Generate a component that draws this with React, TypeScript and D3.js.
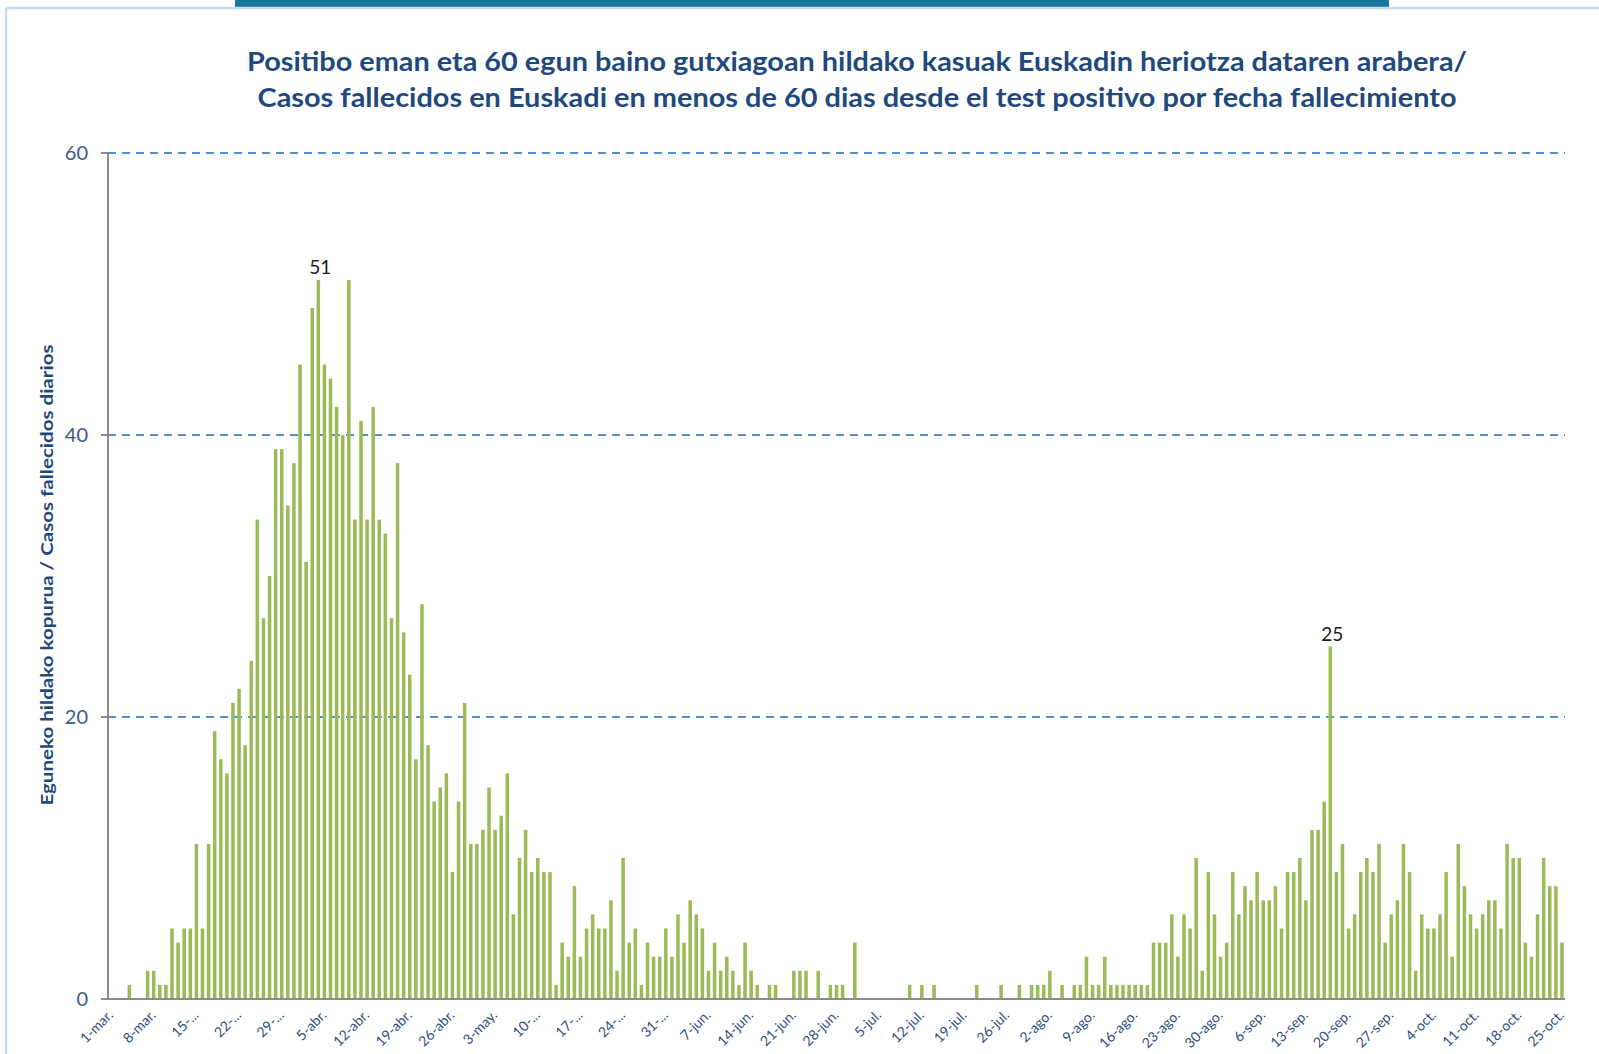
import React from 'react';
import * as d3 from 'd3';

// Eguneko hildakoak / fallecidos diarios, 1-mar a 25-oct
const marzo = [0, 0, 0, 1, 0, 0, 2, 2, 1, 1, 5, 4, 5, 5, 11, 5, 11, 19, 17, 16, 21, 22, 18, 24, 34, 27, 30, 39, 39, 35, 38];
const abril = [45, 31, 49, 51, 45, 44, 42, 40, 51, 34, 41, 34, 42, 34, 33, 27, 38, 26, 23, 17, 28, 18, 14, 15, 16, 9, 14, 21, 11, 11];
const mayo = [12, 15, 12, 13, 16, 6, 10, 12, 9, 10, 9, 9, 1, 4, 3, 8, 3, 5, 6, 5, 5, 7, 2, 10, 4, 5, 1, 4, 3, 3, 5];
const junio = [3, 6, 4, 7, 6, 5, 2, 4, 2, 3, 2, 1, 4, 2, 1, 0, 1, 1, 0, 0, 2, 2, 2, 0, 2, 0, 1, 1, 1, 0];
const julio = [4, 0, 0, 0, 0, 0, 0, 0, 0, 1, 0, 1, 0, 1, 0, 0, 0, 0, 0, 0, 1, 0, 0, 0, 1, 0, 0, 1, 0, 1, 1];
const agosto = [1, 2, 0, 1, 0, 1, 1, 3, 1, 1, 3, 1, 1, 1, 1, 1, 1, 1, 4, 4, 4, 6, 3, 6, 5, 10, 2, 9, 6, 3, 4];
const septiembre = [9, 6, 8, 7, 9, 7, 7, 8, 5, 9, 9, 10, 7, 12, 12, 14, 25, 9, 11, 5, 6, 9, 10, 9, 11, 4, 6, 7, 11, 9];
const octubre = [2, 6, 5, 5, 6, 9, 3, 11, 8, 6, 5, 6, 7, 7, 5, 11, 10, 10, 4, 3, 6, 10, 8, 8, 4];

const fallecidos = [...marzo, ...abril, ...mayo, ...junio, ...julio, ...agosto, ...septiembre, ...octubre];

// categorias: un dia por barra
const dias = d3.timeDay.range(new Date(2020, 2, 1), new Date(2020, 9, 26));

// etiquetas del eje x, una cada 7 dias
const etiquetas = [
  '1-mar.', '8-mar.', '15-...', '22-...', '29-...', '5-abr.', '12-abr.', '19-abr.', '26-abr.',
  '3-may.', '10-...', '17-...', '24-...', '31-...', '7-jun.', '14-jun.', '21-jun.', '28-jun.',
  '5-jul.', '12-jul.', '19-jul.', '26-jul.', '2-ago.', '9-ago.', '16-ago.', '23-ago.', '30-ago.',
  '6-sep.', '13-sep.', '20-sep.', '27-sep.', '4-oct.', '11-oct.', '18-oct.', '25-oct.',
];

const yTicks = [0, 20, 40, 60];
// dias con etiqueta de dato
const destacados = ['2020-04-04', '2020-09-17'];

const W = 1599;
const H = 1054;
const FONT = 'Lato, "Open Sans", sans-serif';
const NAVY = '#1f497d';

const fmt = d3.timeFormat('%Y-%m-%d');

export default function App() {
  const keys = dias.map(fmt);

  const x = d3.scaleBand<string>()
    .domain(keys)
    .range([108, 1565])
    .paddingInner(0.42)
    .paddingOuter(0.21);

  const y = d3.scaleLinear().domain([0, 60]).range([999, 153]);

  const cx = (k: string) => (x(k) ?? 0) + x.bandwidth() / 2;

  return (
    <svg width={W} height={H} style={{ position: 'absolute', left: 0, top: 0, background: '#fff' }}>
      {/* marco */}
      <rect x={235} y={0} width={1154} height={7} fill="#17759e" />
      <line x1={6} x2={W} y1={8} y2={8} stroke="#c6d9f1" strokeWidth={2.5} />
      <line x1={6} x2={6} y1={8} y2={H} stroke="#c6d9f1" strokeWidth={2.5} />

      {/* titulo */}
      <g fontFamily={FONT} fontWeight="bold" fontSize={26} fill={NAVY} textAnchor="middle"
        style={{ whiteSpace: 'pre' }}>
        <text x={857} y={71} textLength={1220} lengthAdjust="spacingAndGlyphs">
          Positibo eman eta 60 egun baino gutxiagoan hildako kasuak Euskadin heriotza dataren arabera/
        </text>
        <text x={857} y={107} textLength={1199} lengthAdjust="spacingAndGlyphs">
          {'Casos fallecidos en Euskadi  en menos de 60 dias desde el test positivo por fecha fallecimiento'}
        </text>
      </g>

      {/* rejilla */}
      {yTicks.filter(t => t > 0).map(t => (
        <line key={t} x1={108} x2={1565} y1={y(t)} y2={y(t)}
          stroke="#558ed5" strokeWidth={2} strokeDasharray="8 6" />
      ))}

      {/* barras */}
      {fallecidos.map((v, i) => (
        v > 0 ? (
          <rect key={keys[i]} x={x(keys[i])} y={y(v)} width={x.bandwidth()}
            height={y(0) - y(v)} fill="#9bbb59" />
        ) : null
      ))}

      {/* ejes */}
      <line x1={108} x2={108} y1={y(60)} y2={y(0)} stroke="#8c8c8c" strokeWidth={2} />
      <line x1={101} x2={1565} y1={y(0)} y2={y(0)} stroke="#8c8c8c" strokeWidth={2} />
      {yTicks.map(t => (
        <g key={t}>
          <line x1={101} x2={108} y1={y(t)} y2={y(t)} stroke="#8c8c8c" strokeWidth={2} />
          <text x={88} y={y(t)} dy="0.35em" textAnchor="end" fontFamily={FONT}
            fontSize={20} fill="#3a5b87">{t}</text>
        </g>
      ))}

      {etiquetas.map((lab, j) => {
        const k = keys[j * 7];
        return (
          <text key={lab} transform={`translate(${cx(k) + 3},${1016}) rotate(-45)`}
            textAnchor="end" fontFamily={FONT} fontSize={14} fill="#2c4f80">{lab}</text>
        );
      })}

      {/* etiquetas de dato */}
      {destacados.map(k => {
        const v = fallecidos[keys.indexOf(k)];
        return (
          <text key={k} x={cx(k) + 2} y={y(v) - 6} textAnchor="middle" fontFamily={FONT}
            fontSize={19} fill="#1a1a1a">{v}</text>
        );
      })}

      {/* titulo eje y */}
      <text transform="translate(53,575) rotate(-90)" textAnchor="middle" fontFamily={FONT}
        fontWeight="bold" fontSize={17} fill={NAVY} textLength={461} lengthAdjust="spacingAndGlyphs">
        Eguneko hildako kopurua / Casos fallecidos diarios
      </text>
    </svg>
  );
}
